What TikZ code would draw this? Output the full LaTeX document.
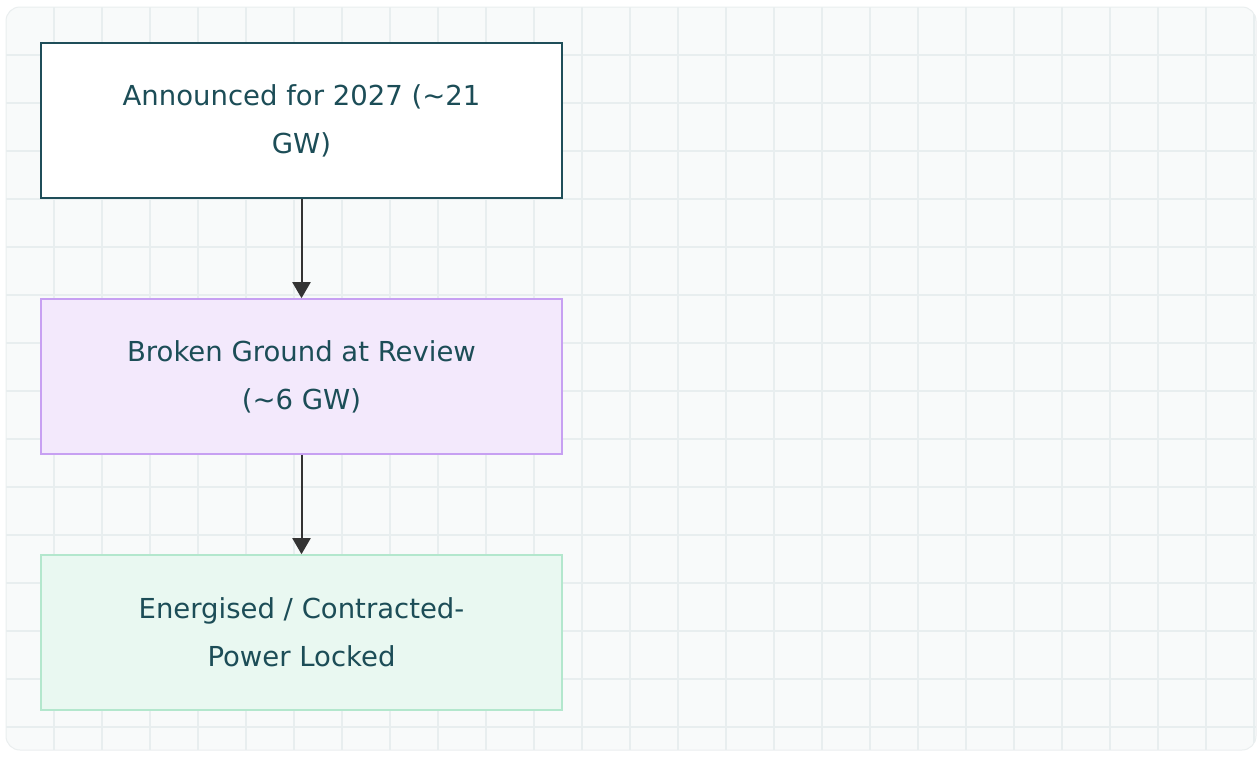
\documentclass[tikz,border=0pt]{standalone}
\usepackage{fontspec}
\setmainfont{DejaVu Sans}
\usetikzlibrary{arrows.meta}
\definecolor{panelbg}{HTML}{F8FAFA}
\definecolor{gridline}{HTML}{E8EEEF}
\definecolor{panelrim}{HTML}{EAEEEF}
\definecolor{ink}{HTML}{1C4D57}
\definecolor{darkrim}{HTML}{1F4E59}
\definecolor{lilacfill}{HTML}{F3E9FC}
\definecolor{lilacrim}{HTML}{C7A0F2}
\definecolor{mintfill}{HTML}{E9F8F1}
\definecolor{mintrim}{HTML}{B3E7CD}
\definecolor{arrowink}{HTML}{333333}
\tikzset{
  stage/.style={rectangle, minimum width=521pt, minimum height=155pt,
    line width=1.6pt, align=center, text=ink,
    font=\fontsize{27.5}{48}\selectfont},
  flow/.style={draw=arrowink, line width=2pt,
    -{Triangle[length=16pt,width=18pt]}}
}
\begin{document}
\begin{tikzpicture}[x=1pt,y=-1pt]
  \useasboundingbox (0,0) rectangle (1257,756);
  \fill[white] (0,0) rectangle (1257,756);
  % panel with grid
  \begin{scope}
    \clip[rounded corners=14pt] (6,7) rectangle (1256,750);
    \fill[panelbg] (6,7) rectangle (1256,750);
    \foreach \k in {0,...,25} {
      \draw[gridline, line width=2pt] ({54+48*\k},7) -- ({54+48*\k},750);
    }
    \foreach \k in {0,...,14} {
      \draw[gridline, line width=2pt] (6,{55+48*\k}) -- (1256,{55+48*\k});
    }
  \end{scope}
  \draw[panelrim, line width=1pt, rounded corners=14pt] (6,7) rectangle (1256,750);
  % stages
  \node[stage, draw=darkrim, fill=white] (announced) at (301.5,120.5)
    {Announced for 2027 (\textasciitilde21\\GW)};
  \node[stage, draw=lilacrim, fill=lilacfill] (broken) at (301.5,376.5)
    {Broken Ground at Review\\(\textasciitilde6 GW)};
  \node[stage, draw=mintrim, fill=mintfill] (energised) at (301.5,632.5)
    {Energised / Contracted-\\Power Locked};
  % connectors
  \draw[flow] (announced.south) -- (broken.north);
  \draw[flow] (broken.south) -- (energised.north);
\end{tikzpicture}
\end{document}
